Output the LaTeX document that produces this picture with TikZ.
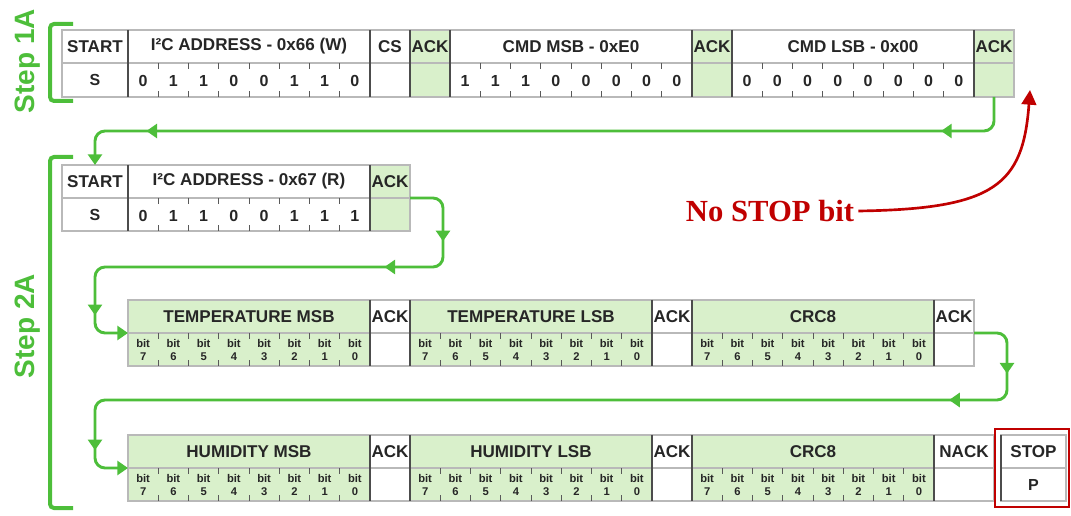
\documentclass[tikz,border=0pt]{standalone}
\usepackage{fontspec}
\setmainfont{Liberation Sans}
\newfontfamily\serifred{Liberation Serif}
\usetikzlibrary{arrows.meta,decorations.markings}
\definecolor{cgreen}{HTML}{4DBE3A}
\definecolor{lgreen}{HTML}{D9F0CB}
\definecolor{cred}{HTML}{C00000}
\definecolor{ctext}{HTML}{262626}
% cell: name, x1, x2, y1, y2, fill, text
\newcommand\fcell[7]{\node[cellst, fill=#6, minimum width={(#3-#2)*0.75pt}, minimum height={(#5-#4)*0.75pt}] (#1) at ({(#2+#3)/2},{(#4+#5)/2}) {#7};}
% digit bits: prefix, x1, ymid, ybot, list
\newcommand\fbits[5]{%
  \foreach \v [count=\i from 0] in {#5} {\node[bitd] (#1-\i) at ({#2+(\i+0.5)*30.25},{(#3+#4)/2+1}) {\v};}
  \foreach \i in {1,...,7} {\draw[tickst] ({#2+\i*30.25},#3) -- ++(0,6); \draw[tickst] ({#2+\i*30.25},#4) -- ++(0,-6);}%
}
% "bit n" bits: prefix, x1, ymid, ybot
\newcommand\fbitsb[4]{%
  \foreach \v [count=\i from 0] in {7,6,5,4,3,2,1,0} {\node[bitb] (#1-\i) at ({#2+(\i+0.5)*30.25},{(#3+#4)/2+0.5}) {bit\\\v};}
  \foreach \i in {1,...,7} {\draw[tickst] ({#2+\i*30.25},#3) -- ++(0,6); \draw[tickst] ({#2+\i*30.25},#4) -- ++(0,-6);}%
}
\begin{document}
\begin{tikzpicture}[x=0.75pt,y=-0.75pt,
  cellst/.style={draw=gray!55, line width=0.9pt, inner sep=0pt, outer sep=0pt, text=ctext, font=\bfseries\fontsize{12.8}{14}\selectfont},
  bitd/.style={inner sep=0pt, text=ctext, font=\bfseries\fontsize{12}{13}\selectfont},
  bitb/.style={inner sep=0pt, text=ctext, align=center, font=\bfseries\fontsize{8.4}{9.6}\selectfont},
  tickst/.style={draw=black!65, line width=0.6pt},
  sepst/.style={draw=black!70, line width=0.8pt},
  conn/.style={draw=cgreen, color=cgreen, line width=2.2pt, rounded corners=7.5pt, postaction={decorate},
    arrows={-Triangle[width=10.5pt,length=8pt]}},
  bracketst/.style={draw=cgreen, line width=3pt, rounded corners=3pt},
  steplbl/.style={text=cgreen, font=\bfseries\fontsize{21}{24}\selectfont, inner sep=0pt},
]
\useasboundingbox (0,0) rectangle (1071,516);

% ---------------- Row 1 (Step 1A) ----------------
\fcell{r1st}{62}{128}{30}{63}{white}{START}
\fcell{r1stb}{62}{128}{63}{97}{white}{\fontsize{12}{13}\selectfont S}
\fcell{r1ad}{128}{370}{30}{63}{white}{I²C ADDRESS - 0x66 (W)}
\fcell{r1adb}{128}{370}{63}{97}{white}{}
\fcell{r1cs}{370}{410}{30}{63}{white}{CS}
\fcell{r1csb}{370}{410}{63}{97}{white}{}
\fcell{r1k1}{410}{450}{30}{63}{lgreen}{ACK}
\fcell{r1k1b}{410}{450}{63}{97}{lgreen}{}
\fcell{r1m}{450}{692}{30}{63}{white}{CMD MSB - 0xE0}
\fcell{r1mb}{450}{692}{63}{97}{white}{}
\fcell{r1k2}{692}{732}{30}{63}{lgreen}{ACK}
\fcell{r1k2b}{692}{732}{63}{97}{lgreen}{}
\fcell{r1l}{732}{974}{30}{63}{white}{CMD LSB - 0x00}
\fcell{r1lb}{732}{974}{63}{97}{white}{}
\fcell{r1k3}{974}{1014}{30}{63}{lgreen}{ACK}
\fcell{r1k3b}{974}{1014}{63}{97}{lgreen}{}
\foreach \x in {128,370,410,450,692,732,974} {\draw[sepst] (\x,30) -- (\x,97);}
\fbits{r1a}{128}{63}{97}{0,1,1,0,0,1,1,0}
\fbits{r1mm}{450}{63}{97}{1,1,1,0,0,0,0,0}
\fbits{r1ll}{732}{63}{97}{0,0,0,0,0,0,0,0}

% ---------------- Row 2 ----------------
\fcell{r2st}{62}{128}{165}{198}{white}{START}
\fcell{r2stb}{62}{128}{198}{231}{white}{\fontsize{12}{13}\selectfont S}
\fcell{r2ad}{128}{370}{165}{198}{white}{I²C ADDRESS - 0x67 (R)}
\fcell{r2adb}{128}{370}{198}{231}{white}{}
\fcell{r2k}{370}{410}{165}{198}{lgreen}{ACK}
\fcell{r2kb}{370}{410}{198}{231}{lgreen}{}
\foreach \x in {128,370} {\draw[sepst] (\x,165) -- (\x,231);}
\fbits{r2a}{128}{198}{231}{0,1,1,0,0,1,1,1}

% ---------------- Row 3 ----------------
\fcell{r3m}{128}{370}{300}{333}{lgreen}{TEMPERATURE MSB}
\fcell{r3mb}{128}{370}{333}{366}{lgreen}{}
\fcell{r3k1}{370}{410}{300}{333}{white}{ACK}
\fcell{r3k1b}{370}{410}{333}{366}{white}{}
\fcell{r3l}{410}{652}{300}{333}{lgreen}{TEMPERATURE LSB}
\fcell{r3lb}{410}{652}{333}{366}{lgreen}{}
\fcell{r3k2}{652}{692}{300}{333}{white}{ACK}
\fcell{r3k2b}{652}{692}{333}{366}{white}{}
\fcell{r3c}{692}{934}{300}{333}{lgreen}{CRC8}
\fcell{r3cb}{692}{934}{333}{366}{lgreen}{}
\fcell{r3k3}{934}{974}{300}{333}{white}{ACK}
\fcell{r3k3b}{934}{974}{333}{366}{white}{}
\foreach \x in {370,410,652,692,934} {\draw[sepst] (\x,300) -- (\x,366);}
\fbitsb{r3mm}{128}{333}{366}
\fbitsb{r3ll}{410}{333}{366}
\fbitsb{r3cc}{692}{333}{366}

% ---------------- Row 4 ----------------
\fcell{r4m}{128}{370}{435}{468}{lgreen}{HUMIDITY MSB}
\fcell{r4mb}{128}{370}{468}{501}{lgreen}{}
\fcell{r4k1}{370}{410}{435}{468}{white}{ACK}
\fcell{r4k1b}{370}{410}{468}{501}{white}{}
\fcell{r4l}{410}{652}{435}{468}{lgreen}{HUMIDITY LSB}
\fcell{r4lb}{410}{652}{468}{501}{lgreen}{}
\fcell{r4k2}{652}{692}{435}{468}{white}{ACK}
\fcell{r4k2b}{652}{692}{468}{501}{white}{}
\fcell{r4c}{692}{934}{435}{468}{lgreen}{CRC8}
\fcell{r4cb}{692}{934}{468}{501}{lgreen}{}
\fcell{r4n}{934}{994}{435}{468}{white}{NACK}
\fcell{r4nb}{934}{994}{468}{501}{white}{}
\fcell{r4p}{1001}{1066}{435}{468}{white}{STOP}
\fcell{r4pb}{1001}{1066}{468}{501}{white}{\fontsize{12}{13}\selectfont P}
\foreach \x in {370,410,652,692,934} {\draw[sepst] (\x,435) -- (\x,501);}
\draw[sepst] (1001,435) -- (1001,501);
\fbitsb{r4mm}{128}{468}{501}
\fbitsb{r4ll}{410}{468}{501}
\fbitsb{r4cc}{692}{468}{501}
\draw[cred, line width=1.8pt] (995,429) rectangle (1069,507);

% ---------------- Brackets and labels ----------------
\draw[bracketst] (73,24) -- (50,24) -- (50,101) -- (73,101);
\draw[bracketst] (73,157) -- (50,157) -- (50,508) -- (73,508);
\node[steplbl, rotate=90, anchor=base] (s1a) at (34,61) {Step 1A};
\node[steplbl, rotate=90, anchor=base] (s2a) at (34,326) {Step 2A};

% ---------------- Green connectors ----------------
\coordinate (y1) at (0,131);
\draw[conn, decoration={markings,
   mark=at position 62pt with {\arrow{Triangle[width=10.5pt,length=8pt]}},
   mark=at position 658pt with {\arrow{Triangle[width=10.5pt,length=8pt]}}}]
  (r1k3b.south) -- (r1k3b.south |- y1) -- (r2st.north |- y1) -- (r2st.north);

\coordinate (c2a) at (443,267);
\coordinate (c2b) at (95,267);
\draw[conn, decoration={markings,
   mark=at position 54pt with {\arrow{Triangle[width=10.5pt,length=8pt]}},
   mark=at position 114pt with {\arrow{Triangle[width=10.5pt,length=8pt]}},
   mark=at position 364pt with {\arrow{Triangle[width=10.5pt,length=8pt]}}}]
  (r2kb.north east) -| (c2a) -- (c2b) |- (r3mb.north west);

\coordinate (c3a) at (1007,400);
\coordinate (c3b) at (95,400);
\draw[conn, decoration={markings,
   mark=at position 52pt with {\arrow{Triangle[width=10.5pt,length=8pt]}},
   mark=at position 112pt with {\arrow{Triangle[width=10.5pt,length=8pt]}},
   mark=at position 787pt with {\arrow{Triangle[width=10.5pt,length=8pt]}}}]
  (r3k3b.north east) -| (c3a) -- (c3b) |- (r4mb.north west);

% ---------------- Red annotation ----------------
\node[text=cred, font=\serifred\bfseries\fontsize{23}{26}\selectfont, inner sep=3pt] (ns) at (770,211) {No STOP bit};
\coordinate (rtip) at (1030,90);
\draw[cred, line width=2pt, -{Triangle[width=11pt,length=11pt]}]
  (ns.east) .. controls (995,209) and (1023,185) .. (rtip);
\end{tikzpicture}
\end{document}
